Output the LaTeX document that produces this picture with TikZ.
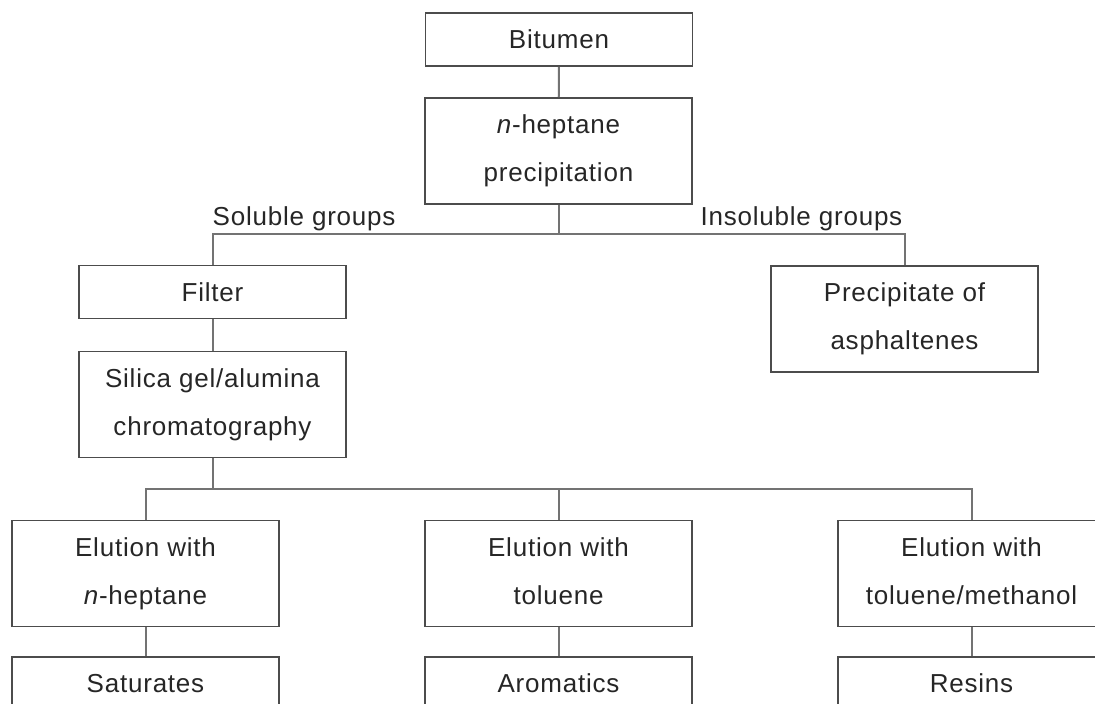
\documentclass[tikz,border=0pt]{standalone}
\usepackage{fontspec}
\setmainfont[LetterSpace=3]{Liberation Sans}
\newcommand{\lastln}{\vphantom{/p}}
\begin{document}
\begin{tikzpicture}[x=1pt,y=-1pt,
  box/.style={draw=black!70, line width=1.6pt, minimum width=267pt, inner sep=0pt,
    align=center, text=black!85, font=\fontsize{26}{48}\selectfont},
  onebox/.style={box, minimum height=53pt},
  twobox/.style={box, minimum height=106pt},
  conn/.style={draw=black!55, line width=2pt},
  lab/.style={inner sep=0pt, text=black!85, font=\fontsize{26}{30}\selectfont}]
\useasboundingbox (0,0) rectangle (1095,704);
\clip (0,0) rectangle (1095,704);
\node[onebox] (bit) at (559,39.5) {Bitumen};
\node[twobox] (hep) at (558.5,151) {\textit{n}-heptane\\precipitation\lastln};
\node[onebox] (filt) at (212.5,292) {Filter};
\node[twobox] (sil) at (212.5,404.5) {Silica gel/alumina\\chromatography\lastln};
\node[twobox] (prec) at (904.5,319) {Precipitate of\\asphaltenes\lastln};
\node[twobox] (e1) at (145.5,573.5) {Elution with\\\textit{n}-heptane\lastln};
\node[twobox] (e2) at (558.5,573.5) {Elution with\\toluene\lastln};
\node[twobox] (e3) at (971.5,573.5) {Elution with\\toluene/methanol\lastln};
\node[onebox] (sat) at (145.5,683.5) {Saturates};
\node[onebox] (aro) at (558.5,683.5) {Aromatics};
\node[onebox] (res) at (971.5,683.5) {Resins};
\coordinate (j1) at (558.5,234);
\coordinate (j2) at (212.5,489);
\draw[conn] (bit) -- (hep);
\draw[conn] (hep.south) -- (hep.south |- j1);
\draw[conn] (filt.north) |- (prec.north |- j1) -- (prec.north);
\draw[conn] (filt) -- (sil);
\draw[conn] (sil.south) -- (sil.south |- j2);
\draw[conn] (e1.north) |- (e3.north |- j2) -- (e3.north);
\draw[conn] (e2.north |- j2) -- (e2.north);
\draw[conn] (e1) -- (sat);
\draw[conn] (e2) -- (aro);
\draw[conn] (e3) -- (res);
\node[lab, anchor=south west] (sol) at ([yshift=3pt]filt.north |- j1) {Soluble groups};
\node[lab, anchor=south east] (ins) at ([yshift=3pt,xshift=-2pt]prec.north |- j1) {Insoluble groups};
\end{tikzpicture}
\end{document}
